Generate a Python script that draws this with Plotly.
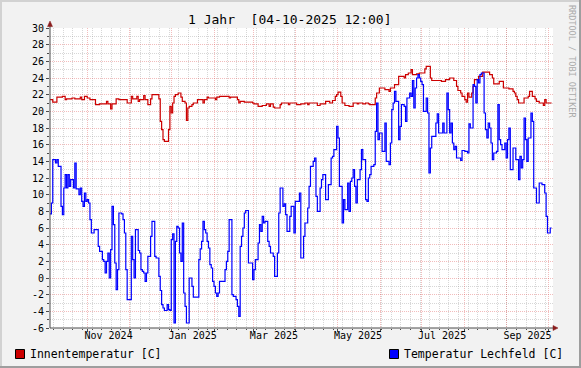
import pandas as pd
import plotly.graph_objects as go

# ---------------- data ----------------
title_text = "1 Jahr\u00a0\u00a0[04-10-2025 12:00]"
range_start = "2024-10-04 12:00"
range_end = "2025-10-04 12:00"
series_names = ["Innentemperatur [C]", "Temperatur Lechfeld [C]"]
series_colors = ["#CC0000", "#0000FF"]

# daily values starting at range_start
innen = [
    21.4, 21.4, 21.1, 21.1, 21.1, 21.7, 21.7, 21.7, 21.7, 21.8,
    21.8, 21.4, 21.5, 21.5, 21.5, 21.5, 21.6, 21.6, 21.5, 21.5,
    21.5, 21.5, 21.7, 21.4, 21.4, 21.8, 21.8, 21.6, 21.6, 21.4,
    21.4, 21.4, 21.4, 20.8, 20.8, 20.8, 20.9, 20.9, 20.9, 20.9,
    20.9, 21.2, 20.9, 20.9, 20.3, 20.9, 20.9, 20.9, 21.5, 21.5,
    21.4, 21.4, 21.4, 21.4, 21.4, 21.4, 21.0, 21.0, 21.0, 21.8,
    21.5, 21.5, 21.5, 21.8, 21.2, 21.4, 21.4, 21.4, 21.9, 21.4,
    21.4, 20.8, 20.8, 21.5, 22.0, 22.0, 22.0, 22.0, 22.0, 21.5,
    18.8, 17.8, 16.6, 16.4, 16.4, 16.4, 17.8, 20.6, 19.8, 21.0,
    21.8, 22.0, 22.0, 22.2, 22.2, 21.7, 21.2, 21.2, 21.0, 18.9,
    20.4, 20.6, 20.6, 20.8, 21.0, 21.0, 21.0, 21.4, 21.4, 21.4,
    21.4, 21.0, 21.4, 21.4, 21.7, 21.6, 21.6, 21.6, 21.6, 21.6,
    21.4, 21.7, 21.7, 21.8, 21.8, 21.8, 21.8, 21.8, 21.8, 21.8,
    21.6, 21.7, 21.7, 21.7, 21.7, 21.7, 21.4, 21.0, 21.2, 21.2,
    21.2, 21.1, 21.1, 21.1, 21.1, 21.1, 21.1, 21.0, 20.9, 20.9,
    20.9, 20.6, 20.6, 20.6, 20.7, 20.7, 20.7, 20.9, 20.9, 20.6,
    20.9, 20.9, 20.5, 20.4, 20.4, 20.4, 20.4, 20.8, 21.0, 21.0,
    21.0, 21.0, 21.0, 20.8, 21.0, 21.0, 21.0, 21.0, 21.0, 20.8,
    20.8, 20.8, 20.9, 20.9, 20.9, 21.0, 21.0, 20.8, 21.0, 21.0,
    21.0, 21.0, 21.0, 21.0, 20.7, 20.7, 20.9, 20.9, 20.9, 20.9,
    21.2, 21.2, 21.2, 21.0, 21.0, 21.3, 21.3, 21.8, 22.0, 22.3,
    22.3, 21.8, 21.0, 21.0, 20.7, 20.7, 20.7, 20.6, 20.6, 20.6,
    21.0, 21.0, 21.0, 20.9, 21.0, 21.0, 21.0, 20.9, 20.9, 21.0,
    21.0, 20.9, 20.8, 20.8, 20.8, 20.8, 21.6, 22.2, 22.2, 22.8,
    22.8, 22.8, 22.8, 22.6, 22.6, 22.6, 22.4, 22.8, 22.8, 22.8,
    23.2, 23.2, 23.2, 24.2, 24.2, 24.2, 24.2, 24.0, 24.4, 24.4,
    24.6, 24.6, 25.0, 24.4, 24.4, 24.4, 24.5, 24.5, 24.6, 24.6,
    24.6, 24.6, 25.1, 25.4, 25.4, 25.4, 24.0, 23.7, 23.7, 23.7,
    23.7, 23.7, 23.7, 23.7, 23.6, 23.6, 23.6, 23.8, 23.8, 23.8,
    24.0, 24.0, 24.0, 23.7, 23.7, 23.0, 22.5, 22.5, 22.2, 21.8,
    21.8, 21.4, 21.1, 22.2, 21.7, 21.7, 22.2, 23.0, 23.8, 23.8,
    23.8, 24.2, 24.2, 24.2, 24.7, 24.7, 24.7, 24.7, 24.7, 24.4,
    24.4, 24.0, 23.3, 23.3, 23.3, 23.3, 23.6, 23.6, 23.6, 22.8,
    22.8, 22.8, 22.8, 22.7, 22.7, 22.7, 22.4, 22.2, 21.8, 21.4,
    21.0, 21.0, 21.0, 21.0, 21.6, 21.6, 21.6, 21.8, 22.4, 22.4,
    21.8, 21.8, 21.5, 21.2, 21.2, 21.0, 21.0, 21.0, 20.7, 21.4,
    21.0, 21.0, 21.0, 21.0, 21.0,
]

lechfeld = [
    7.7, 9.0, 14.2, 14.2, 13.8, 14.2, 13.4, 13.4, 8.6, 7.6,
    10.8, 12.4, 10.8, 12.4, 11.0, 11.8, 11.8, 10.8, 13.8, 10.7,
    10.7, 10.0, 10.8, 9.2, 8.6, 10.2, 9.2, 9.4, 9.0, 7.0,
    5.4, 5.4, 5.8, 5.8, 5.8, 3.8, 3.2, 3.2, 2.2, 2.0,
    0.6, 2.0, 3.0, 0.0, 3.4, 8.6, 6.4, 1.8, -1.4, 1.0,
    7.8, 7.8, 7.7, 7.0, 5.4, 1.0, -2.6, -2.6, -2.6, 5.0,
    2.2, 0.0, 5.8, 5.8, 3.3, 3.0, 1.0, 0.8, 0.6, -0.4,
    0.6, 2.6, 2.6, 5.0, 6.8, 6.8, 2.6, 2.4, 2.4, 0.2,
    -1.5, -3.2, -3.6, -3.9, -3.9, -3.2, -3.8, -3.9, 4.6, 5.3,
    -5.4, 4.4, 6.2, 6.0, 3.0, 2.0, 6.6, -1.8, -3.4, -5.4,
    -5.4, 0.0, 0.0, -1.0, -2.3, -2.3, -2.3, -2.3, 2.2, 3.5,
    4.4, 6.8, 5.8, 5.4, 4.4, 3.6, 1.6, 1.2, -0.4, -1.0,
    -1.8, -2.2, -1.8, -0.4, -0.4, -0.4, -0.4, 1.0, 2.0, 3.2,
    7.0, 7.0, -2.0, -2.2, -2.2, -2.6, -3.4, -4.6, 3.8, 5.0,
    6.0, 7.8, 8.1, 8.1, 1.8, 1.8, 1.8, -0.2, 1.0, 2.2,
    2.2, 4.2, 6.4, 5.6, 7.4, 6.6, 6.8, 6.8, 4.4, 3.8,
    3.0, 3.0, 2.6, 0.2, 0.2, 3.0, 7.8, 10.8, 10.8, 8.6,
    8.9, 7.6, 5.6, 5.6, 7.4, 8.6, 8.6, 5.4, 9.2, 9.2,
    9.2, 10.2, 2.4, 2.4, 5.0, 6.6, 6.6, 8.4, 11.0, 13.4,
    13.4, 14.0, 14.4, 9.8, 8.0, 8.0, 10.8, 11.8, 12.4, 12.4,
    9.4, 9.4, 11.2, 11.2, 14.4, 14.6, 15.4, 15.4, 18.2, 16.8,
    11.0, 11.0, 6.6, 9.4, 8.2, 8.2, 11.4, 8.0, 11.6, 12.0,
    13.0, 11.0, 9.0, 11.8, 11.8, 13.0, 15.4, 14.2, 14.2, 9.4,
    9.2, 12.0, 12.4, 13.4, 13.4, 13.6, 17.6, 21.0, 16.6, 17.4,
    17.4, 15.2, 15.2, 18.6, 14.0, 14.0, 13.6, 16.2, 20.2, 21.0,
    22.4, 21.2, 21.2, 16.6, 18.2, 20.8, 20.8, 20.6, 18.8, 21.6,
    21.6, 22.2, 21.8, 23.7, 20.4, 22.8, 24.0, 24.4, 24.0, 23.6,
    23.2, 20.0, 20.0, 21.6, 19.8, 12.6, 15.6, 17.0, 17.0, 17.0,
    18.6, 19.7, 17.4, 17.4, 17.4, 18.6, 17.4, 17.4, 22.2, 20.2,
    17.4, 18.6, 16.2, 15.4, 15.8, 14.4, 14.4, 14.4, 14.1, 15.3,
    15.3, 15.2, 15.2, 15.0, 18.5, 18.0, 18.0, 23.2, 23.0, 21.0,
    23.8, 23.4, 24.4, 24.6, 24.6, 19.8, 17.8, 16.8, 18.6, 18.0,
    16.2, 14.2, 15.0, 15.0, 15.2, 20.8, 16.6, 16.0, 15.4, 15.4,
    16.2, 14.4, 16.6, 18.0, 13.0, 13.0, 15.6, 15.6, 14.2, 14.2,
    11.8, 14.6, 13.2, 14.2, 19.2, 16.6, 14.0, 16.8, 16.8, 19.8,
    18.8, 10.8, 10.8, 9.0, 9.0, 11.4, 11.4, 11.2, 11.2, 10.2,
    7.4, 5.4, 5.4, 6.0, 6.0,
]

y_ticks = list(range(-6, 31, 2))
y_minor = list(range(-5, 30, 2))
month_starts = pd.date_range("2024-11-01", "2025-10-01", freq="MS")
label_months = pd.date_range("2024-11-01", "2025-09-01", freq="2MS")
label_pos = label_months + pd.Timedelta(days=15)
label_text = [d.strftime("%b %Y") for d in label_months]
week_starts = pd.date_range("2024-10-07", "2025-10-04", freq="7D")

# ---------------- layout geometry ----------------
W, H = 581, 368
L, R, T, B = 50, 28, 28, 40
PW, PH = W - L - R, H - T - B


def px(x):
    return (x - L) / PW


def py(y):
    return (H - B - y) / PH


MONO = "DejaVu Sans Mono"
BG = "#F2F2F2"
AXIS = "#4A4A4A"
ARROW = "#8B1E1E"
MGRID = "rgba(222,80,80,0.38)"
GRID = "rgba(140,140,140,0.35)"

fig = go.Figure()
for vals, name, col in zip([innen, lechfeld], series_names, series_colors):
    xs = pd.date_range(range_start, periods=len(vals), freq="D")
    fig.add_trace(go.Scatter(
        x=xs, y=vals, name=name, mode="lines",
        line=dict(color=col, width=1.2, shape="hv"),
        hoverinfo="skip", showlegend=False,
    ))

# invisible trace on the label axis
fig.add_trace(go.Scatter(x=[range_start], y=[None], xaxis="x2", yaxis="y",
                         showlegend=False, hoverinfo="skip"))

shapes = []
# frame / shading
shapes += [
    dict(type="rect", xref="paper", yref="paper", x0=px(0), x1=px(W), y0=py(0), y1=py(2),
         fillcolor="#D2D2D2", line_width=0, layer="above"),
    dict(type="rect", xref="paper", yref="paper", x0=px(0), x1=px(2), y0=py(0), y1=py(H),
         fillcolor="#D2D2D2", line_width=0, layer="above"),
    dict(type="rect", xref="paper", yref="paper", x0=px(W - 2), x1=px(W), y0=py(0), y1=py(H),
         fillcolor="#9E9E9E", line_width=0, layer="above"),
    dict(type="rect", xref="paper", yref="paper", x0=px(0), x1=px(W), y0=py(H - 2), y1=py(H),
         fillcolor="#9E9E9E", line_width=0, layer="above"),
]
# axes lines and arrows
shapes += [
    dict(type="line", xref="paper", yref="paper", x0=0, x1=0, y0=0, y1=py(24),
         line=dict(color=AXIS, width=1), layer="above"),
    dict(type="line", xref="paper", yref="paper", x0=0, x1=px(555), y0=0, y1=0,
         line=dict(color=AXIS, width=1), layer="above"),
    dict(type="path", xref="paper", yref="paper",
         path=f"M {px(47.5)} {py(26.5)} L {px(52.5)} {py(26.5)} L {px(50)} {py(21)} Z",
         fillcolor=ARROW, line=dict(color=ARROW, width=0.5), layer="above"),
    dict(type="path", xref="paper", yref="paper",
         path=f"M {px(553)} {py(325.5)} L {px(553)} {py(330.5)} L {px(558)} {py(328)} Z",
         fillcolor=ARROW, line=dict(color=ARROW, width=0.5), layer="above"),
]
# legend boxes
legend_boxes = [(15, series_colors[0]), (389, series_colors[1])]
for x0, col in legend_boxes:
    shapes.append(dict(type="rect", xref="paper", yref="paper",
                       x0=px(x0 + 0.5), x1=px(x0 + 9.5), y0=py(349.5), y1=py(358.5),
                       fillcolor=col, line=dict(color="black", width=1), layer="above"))

annotations = [
    dict(text=title_text, xref="paper", yref="paper", x=px(289.5), y=py(19.5),
         xanchor="center", yanchor="middle", showarrow=False,
         font=dict(family=MONO, size=13, color="black")),
    dict(text=series_names[0], xref="paper", yref="paper", x=px(27.5), y=py(354),
         xanchor="left", yanchor="middle", showarrow=False,
         font=dict(family=MONO, size=11.5, color="black")),
    dict(text=series_names[1], xref="paper", yref="paper", x=px(401.5), y=py(354),
         xanchor="left", yanchor="middle", showarrow=False,
         font=dict(family=MONO, size=11.5, color="black")),
    dict(text="RRDTOOL / TOBI OETIKER", xref="paper", yref="paper", x=px(572), y=py(61),
         xanchor="center", yanchor="middle", showarrow=False, textangle=90,
         font=dict(family=MONO, size=8.5, color="#ABABAB")),
]

fig.update_layout(
    width=W, height=H,
    margin=dict(l=L, r=R, t=T, b=B, autoexpand=False),
    paper_bgcolor=BG, plot_bgcolor="white",
    showlegend=False, hovermode=False,
    shapes=shapes, annotations=annotations,
    xaxis=dict(
        type="date", range=[range_start, range_end], fixedrange=True,
        tickmode="array", tickvals=list(month_starts), ticktext=[""] * len(month_starts),
        showgrid=True, gridcolor=MGRID, griddash="1px,1px", gridwidth=1,
        ticks="outside", ticklen=3, tickcolor=AXIS, showline=False, zeroline=False,
        minor=dict(tickmode="array", tickvals=list(week_starts), showgrid=True,
                   gridcolor=GRID, griddash="1px,1px", gridwidth=1,
                   ticks="outside", ticklen=1, tickcolor=AXIS),
    ),
    xaxis2=dict(
        type="date", range=[range_start, range_end], overlaying="x", anchor="y",
        side="bottom", fixedrange=True,
        tickmode="array", tickvals=list(label_pos), ticktext=label_text,
        showgrid=False, ticks="", showline=False, zeroline=False,
        tickfont=dict(family=MONO, size=10, color="black"),
    ),
    yaxis=dict(
        range=[-6, 30], fixedrange=True,
        tickmode="array", tickvals=y_ticks, ticktext=[str(v) for v in y_ticks],
        showgrid=True, gridcolor=MGRID, griddash="1px,1px", gridwidth=1,
        ticks="outside", ticklen=3, tickcolor=AXIS, showline=False, zeroline=False,
        tickfont=dict(family=MONO, size=10, color="black"),
        minor=dict(tickmode="array", tickvals=y_minor, showgrid=True,
                   gridcolor=GRID, griddash="1px,1px", gridwidth=1,
                   ticks="outside", ticklen=2, tickcolor=AXIS),
    ),
)

fig.write_html("out.html", config={"displayModeBar": False, "staticPlot": True},
               post_script="document.body.style.margin='0';document.body.style.overflow='hidden';")
